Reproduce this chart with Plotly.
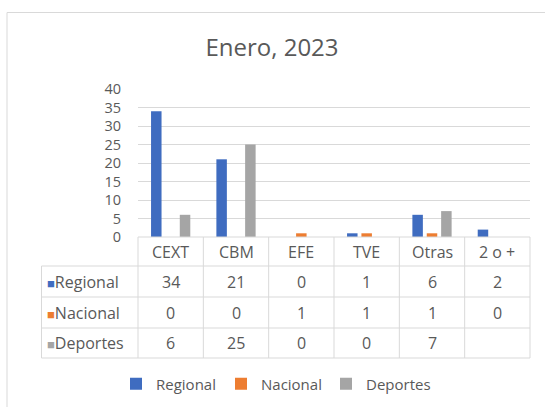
import plotly.graph_objects as go

categories = ["CEXT", "CBM", "EFE", "TVE", "Otras", "2 o +"]
series_names = ["Regional", "Nacional", "Deportes"]
regional = [34, 21, 0, 1, 6, 2]
nacional = [0, 0, 1, 1, 1, 0]
deportes = [6, 25, 0, 0, 7, None]
colors = ["#3F6CC0", "#ED7D31", "#A5A5A5"]
y_ticks = [0, 5, 10, 15, 20, 25, 30, 35, 40]

series_values = [regional, nacional, deportes]

W, H = 545, 407
L, R, T, B = 138, 15, 89, 170
plot_w = W - L - R
plot_h = H - T - B
FONT = "'Open Sans', sans-serif"
TXT = "#595959"
LINE = "#D9D9D9"


def fx(x):
    return (x - L) / plot_w


def fy(y):
    return (H - B - y) / plot_h


fig = go.Figure()
for name, vals, col in zip(series_names, series_values, colors):
    fig.add_trace(go.Bar(x=categories, y=vals, name=name, marker_color=col,
                         marker_line_width=0))

shapes = []
annotations = []

# outer chart border
shapes.append(dict(type="rect", xref="paper", yref="paper",
                   x0=fx(7), x1=fx(570), y0=fy(12.5), y1=fy(430),
                   line=dict(color=LINE, width=1), fillcolor="rgba(0,0,0,0)", layer="below"))

# table geometry
row_lines = [237, 266, 297, 328, 358]
ncat = len(categories)
shapes.append(dict(type="line", xref="paper", yref="paper", x0=0, x1=1,
                   y0=fy(row_lines[0]), y1=fy(row_lines[0]),
                   line=dict(color=LINE, width=1)))
for yy in row_lines[1:]:
    shapes.append(dict(type="line", xref="paper", yref="paper", x0=fx(41.5), x1=1,
                       y0=fy(yy), y1=fy(yy), line=dict(color=LINE, width=1)))
for i in range(ncat + 1):
    xx = i / ncat
    shapes.append(dict(type="line", xref="paper", yref="paper", x0=xx, x1=xx,
                       y0=fy(row_lines[0]), y1=fy(row_lines[-1]),
                       line=dict(color=LINE, width=1)))
shapes.append(dict(type="line", xref="paper", yref="paper", x0=fx(41.5), x1=fx(41.5),
                   y0=fy(row_lines[1]), y1=fy(row_lines[-1]),
                   line=dict(color=LINE, width=1)))

cell_font = dict(size=16, color=TXT, family=FONT)

# header row
hdr_y = (row_lines[0] + row_lines[1]) / 2
for c in categories:
    annotations.append(dict(x=c, y=fy(hdr_y), xref="x", yref="paper", text=c,
                            showarrow=False, font=cell_font,
                            xanchor="center", yanchor="middle"))

for r, (name, vals, col) in enumerate(zip(series_names, series_values, colors)):
    yc = (row_lines[r + 1] + row_lines[r + 2]) / 2
    annotations.append(dict(x=fx(45), y=fy(yc), xref="paper", yref="paper",
                            text=f"<span style='color:{col};font-size:13px'>■</span>{name}",
                            showarrow=False, font=cell_font,
                            xanchor="left", yanchor="middle"))
    for c, v in zip(categories, vals):
        if v is None:
            continue
        annotations.append(dict(x=c, y=fy(yc), xref="x", yref="paper", text=str(v),
                                showarrow=False, font=cell_font,
                                xanchor="center", yanchor="middle"))

fig.update_layout(
    width=W, height=H,
    margin=dict(l=L, r=R, t=T, b=B, autoexpand=False),
    paper_bgcolor="white", plot_bgcolor="white",
    title=dict(text="Enero, 2023", x=272 / W, xanchor="center",
               y=1 - 48 / H, yanchor="middle",
               font=dict(size=24, color=TXT, family=FONT)),
    barmode="group", bargap=0.34, bargroupgap=0.27,
    showlegend=True,
    legend=dict(orientation="h", x=fx(116), xanchor="left",
                y=fy(384), yanchor="middle",
                font=dict(size=15, color=TXT, family=FONT),
                entrywidth=60, entrywidthmode="pixels", traceorder="normal"),
    font=dict(family=FONT, color=TXT),
    shapes=shapes,
    annotations=annotations,
)
fig.update_xaxes(showticklabels=False, showline=False, showgrid=False, zeroline=False,
                 ticks="")
fig.update_yaxes(range=[0, 40], tickvals=y_ticks, showgrid=True, gridcolor=LINE,
                 zeroline=False, showline=False, ticklabelstandoff=16,
                 tickfont=dict(size=14.5, color=TXT, family=FONT))

fig.write_html("out.html", post_script="document.body.style.margin='0';",
               config={"displayModeBar": False})
